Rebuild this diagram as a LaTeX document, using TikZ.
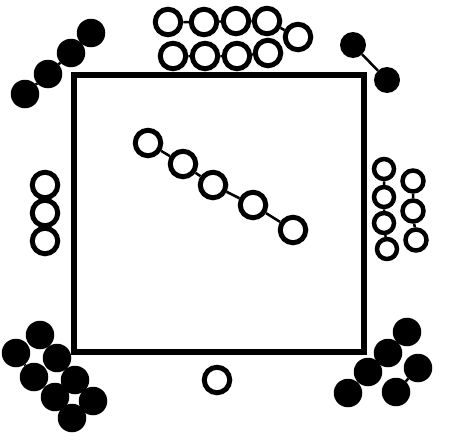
\documentclass[tikz,border=0pt]{standalone}
\begin{document}
\begin{tikzpicture}[x=1pt,y=-1pt,
  oc/.style={circle,draw=black,line width=5pt,inner sep=0pt,minimum size=25.5pt},
  ocs/.style={oc,minimum size=20pt,line width=4.5pt},
  bd/.style={circle,fill=black,inner sep=0pt,minimum size=28.5pt},
  link/.style={line width=2.5pt}]
\useasboundingbox (0,0) rectangle (450,442);
% main box
\node[draw=black,line width=6.5pt,minimum width=290pt,minimum height=277pt,inner sep=0pt] (box) at (219,213.5) {};
% top rows
\node[oc] (t1) at (168,22) {};
\node[oc] (t2) at (204,22) {};
\node[oc] (t3) at (236,21) {};
\node[oc] (t4) at (267,21) {};
\node[oc] (t5) at (298,37) {};
\node[oc] (u1) at (173,56) {};
\node[oc] (u2) at (205,56) {};
\node[oc] (u3) at (237,56) {};
\node[oc] (u4) at (268,53) {};
\draw[link] (t1)--(t2) (t2)--(t3) (t3)--(t4) (t4)--(t5);
\draw[link] (u1)--(u2) (u2)--(u3) (u3)--(u4);
% top-left black chain
\node[bd] (a1) at (91,33) {};
\node[bd] (a2) at (71,53) {};
\node[bd] (a3) at (48,74) {};
\node[bd] (a4) at (25,94) {};
\draw[link] (a1)--(a2) (a2)--(a3) (a3)--(a4);
% top-right dumbbell
\node[bd,minimum size=26pt] (b1) at (353,45) {};
\node[bd,minimum size=26pt] (b2) at (387,80) {};
\draw[link] (b1)--(b2);
% left column
\node[oc] (l1) at (45,185) {};
\node[oc] (l2) at (45,213) {};
\node[oc] (l3) at (45,241) {};
\draw[link] (l1)--(l2) (l2)--(l3);
% right columns
\node[ocs] (r1) at (384,169) {};
\node[ocs] (r2) at (384,197) {};
\node[ocs] (r3) at (384,223) {};
\node[ocs] (r4) at (387,249) {};
\draw[link] (r1)--(r2) (r2)--(r3) (r3)--(r4);
\node[ocs,minimum size=21pt] (s1) at (413,181) {};
\node[ocs,minimum size=21pt] (s2) at (413,211) {};
\node[ocs,minimum size=21pt] (s3) at (416,240) {};
\draw[link] (s1)--(s2) (s2)--(s3);
% diagonal chain
\node[oc] (d1) at (148,143) {};
\node[oc] (d2) at (183,164) {};
\node[oc] (d3) at (213,185) {};
\node[oc] (d4) at (253,205) {};
\node[oc] (d5) at (293,230) {};
\draw[link] (d1)--(d2) (d2)--(d3) (d3)--(d4) (d4)--(d5);
% bottom single
\node[oc] (c1) at (217,380) {};
% bottom-left cluster
\node[bd] (e1) at (40,335) {};
\node[bd] (e2) at (57,358) {};
\node[bd] (e3) at (75,380) {};
\node[bd] (e4) at (93,401) {};
\node[bd] (f1) at (16,353) {};
\node[bd] (f2) at (34,377) {};
\node[bd] (f3) at (55,397) {};
\node[bd] (f4) at (72,418) {};
\draw[link] (e1)--(e2) (e2)--(e3) (e3)--(e4);
\draw[link] (f1)--(f2) (f2)--(f3) (f3)--(f4);
% bottom-right cluster
\node[bd] (g1) at (407,332) {};
\node[bd] (g2) at (388,353) {};
\node[bd] (g3) at (368,372) {};
\node[bd] (g4) at (348,393) {};
\node[bd] (h1) at (418,368) {};
\node[bd] (h2) at (396,392) {};
\draw[link] (g1)--(g2) (g2)--(g3) (g3)--(g4);
\draw[link] (h1)--(h2);
\end{tikzpicture}
\end{document}
